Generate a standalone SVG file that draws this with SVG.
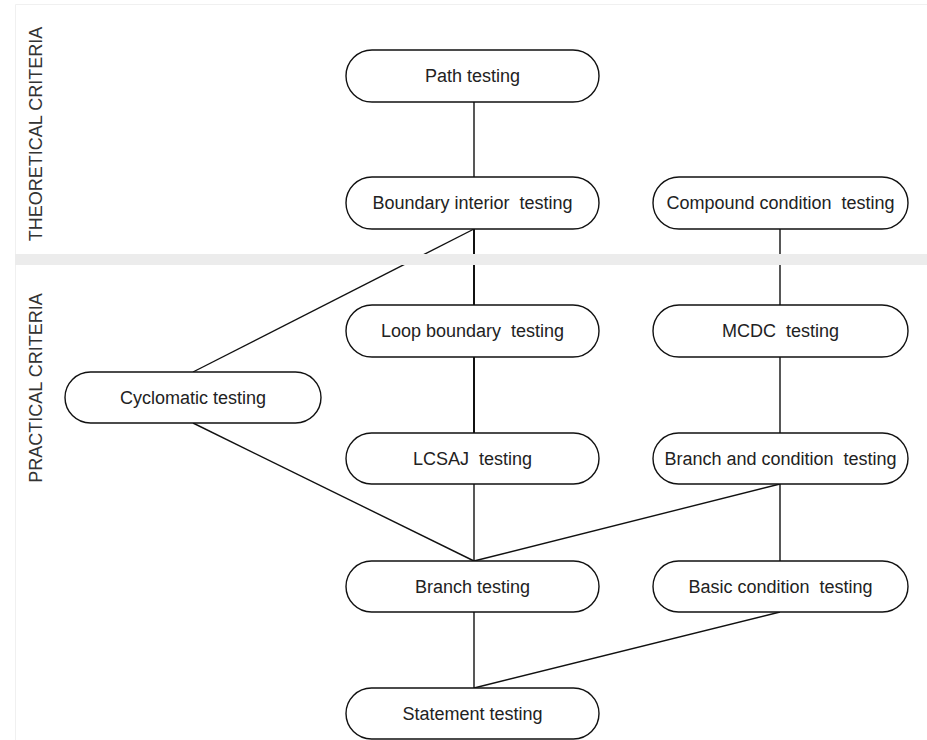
<svg xmlns="http://www.w3.org/2000/svg" width="927" height="740" viewBox="0 0 927 740">
<style>
.node rect{fill:#fff;stroke:#111;stroke-width:1.4}
.node text{font-family:"Liberation Sans",Arial,sans-serif;font-size:18px;fill:#222;text-anchor:middle;white-space:pre}
.edge{stroke:#111;stroke-width:1.4;fill:none}
.thick{stroke-width:2}
.side{font-family:"Liberation Sans",Arial,sans-serif;font-size:18px;fill:#333;text-anchor:middle}
</style>
<rect x="0" y="0" width="927" height="740" fill="#fff"/>
<path d="M15.5 740 V4.5 H927" fill="none" stroke="#f0f0f0" stroke-width="1"/>
<g id="connectors">
<line class="edge" x1="474" y1="102" x2="474" y2="177"/>
<line class="edge thick" x1="474" y1="229" x2="474" y2="305"/>
<line class="edge thick" x1="474" y1="357" x2="474" y2="433"/>
<line class="edge" x1="474" y1="484" x2="474" y2="561"/>
<line class="edge" x1="474" y1="612" x2="474" y2="688"/>
<line class="edge" x1="780" y1="229" x2="780" y2="305"/>
<line class="edge" x1="780" y1="357" x2="780" y2="433"/>
<line class="edge" x1="780" y1="484" x2="780" y2="561"/>
<line class="edge" x1="193" y1="372" x2="474" y2="229"/>
<line class="edge" x1="193" y1="423" x2="474" y2="561"/>
<line class="edge" x1="780" y1="484" x2="474" y2="561"/>
<line class="edge" x1="780" y1="612" x2="474" y2="688"/>
</g>
<rect x="15" y="254" width="912" height="11" fill="#ececec"/>
<text class="side" transform="translate(42 134) rotate(-90)">THEORETICAL CRITERIA</text>
<text class="side" transform="translate(42 388) rotate(-90)">PRACTICAL CRITERIA</text>
<g id="path" class="node"><rect x="346" y="50" width="253" height="52" rx="26"/><text x="472.5" y="82">Path testing</text></g>
<g id="boundary" class="node"><rect x="346" y="177" width="253" height="52" rx="26"/><text x="472.5" y="209">Boundary interior  testing</text></g>
<g id="compound" class="node"><rect x="653" y="177" width="255" height="52" rx="26"/><text x="780.5" y="209">Compound condition  testing</text></g>
<g id="loop" class="node"><rect x="346" y="305" width="253" height="52" rx="26"/><text x="472.5" y="337">Loop boundary  testing</text></g>
<g id="mcdc" class="node"><rect x="653" y="305" width="255" height="52" rx="26"/><text x="780.5" y="337">MCDC  testing</text></g>
<g id="cyclomatic" class="node"><rect x="65" y="372" width="256" height="51" rx="25.5"/><text x="193" y="404">Cyclomatic testing</text></g>
<g id="lcsaj" class="node"><rect x="346" y="433" width="253" height="51" rx="25.5"/><text x="472.5" y="465">LCSAJ  testing</text></g>
<g id="branchcond" class="node"><rect x="653" y="433" width="255" height="51" rx="25.5"/><text x="780.5" y="465">Branch and condition  testing</text></g>
<g id="branch" class="node"><rect x="346" y="561" width="253" height="51" rx="25.5"/><text x="472.5" y="593">Branch testing</text></g>
<g id="basic" class="node"><rect x="653" y="561" width="255" height="51" rx="25.5"/><text x="780.5" y="593">Basic condition  testing</text></g>
<g id="statement" class="node"><rect x="346" y="688" width="253" height="51" rx="25.5"/><text x="472.5" y="720">Statement testing</text></g>
</svg>
